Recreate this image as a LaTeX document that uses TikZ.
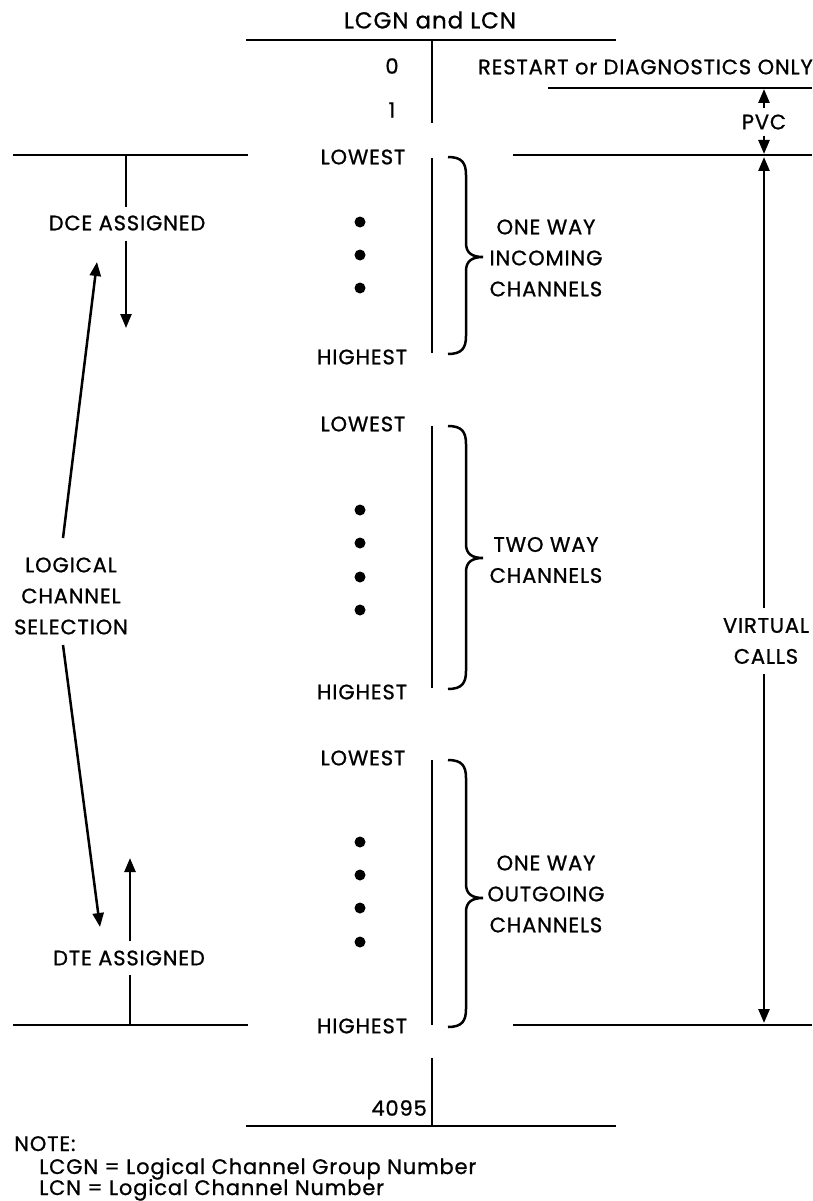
\documentclass[tikz,border=0pt]{standalone}
\usepackage{fontspec}
\setmainfont{Poppins}[LetterSpace=4,FakeBold=0.9]
\usetikzlibrary{arrows.meta}

% brace on the right of a channel range: top y, cusp y, bottom y
\newcommand\chanbrace[3]{%
  \draw (448,#1) .. controls (462,#1) and (466,{#1+6}) .. (466,{#1+18})
        -- (466,{#2-14}) .. controls (466,{#2-4}) and (472,#2) .. (483,#2)
        .. controls (472,#2) and (466,{#2+4}) .. (466,{#2+14})
        -- (466,{#3-18}) .. controls (466,{#3-6}) and (462,#3) .. (448,#3);}

\begin{document}
\begin{tikzpicture}[x=1pt,y=-1pt,line width=2.5pt,
  lbl/.style={font=\fontsize{21}{31}\selectfont,inner sep=0pt,align=center},
  tip/.style={-{Triangle[length=14pt,width=11pt]}},
  dotmark/.style={circle,fill,inner sep=0pt,minimum size=11pt},
]
\useasboundingbox (0,0) rectangle (812,1201);

% ---- header -------------------------------------------------------
\node[lbl,font=\fontsize{23}{31}\selectfont] (title) at (430,20) {LCGN and LCN};
\coordinate (topL) at (246,40); \coordinate (topR) at (616,40);
\draw (topL) -- (topR);
\coordinate (colA) at (432,40); \coordinate (colB) at (432,123);
\draw (colA) -- (colB);
\node[lbl] (zero) at (392,66) {0};
\node[lbl] (one)  at (392,110) {1};
\node[lbl,anchor=east] (restart) at (814,67) {RESTART or DIAGNOSTICS ONLY};
\coordinate (rsL) at (548,88); \coordinate (rsR) at (812,88);
\draw (rsL) -- (rsR);

% ---- PVC range ----------------------------------------------------
\node[lbl] (pvc) at (764,122) {PVC};
\coordinate (pvcTop) at (764,89); \coordinate (pvcBot) at (764,154);
\draw[tip,shorten <=5pt] (pvc.north) -- (pvcTop);
\draw[tip,shorten <=5pt] (pvc.south) -- (pvcBot);

% ---- range limits ---------------------------------------------------
\coordinate (upLL) at (13,155);  \coordinate (upLR) at (248,155);
\coordinate (upRL) at (513,155); \coordinate (upRR) at (812,155);
\draw (upLL) -- (upLR);  \draw (upRL) -- (upRR);
\coordinate (loLL) at (13,1025);  \coordinate (loLR) at (248,1025);
\coordinate (loRL) at (513,1025); \coordinate (loRR) at (812,1025);
\draw (loLL) -- (loLR);  \draw (loRL) -- (loRR);

% ---- virtual calls --------------------------------------------------
\node[lbl] (vc) at (766,641) {VIRTUAL\\CALLS};
\coordinate (vcTop) at (764,157); \coordinate (vcBot) at (764,1023);
\draw[tip,shorten <=9pt] (vc.north -| vcTop) -- (vcTop);
\draw[tip,shorten <=9pt] (vc.south -| vcBot) -- (vcBot);

% ---- one way incoming ----------------------------------------------
\node[lbl] (lo1) at (363,157) {LOWEST};
\node[lbl] (hi1) at (362,357) {HIGHEST};
\coordinate (v1a) at (432,158); \coordinate (v1b) at (432,353);
\draw (v1a) -- (v1b);
\foreach \y [count=\i] in {222,255,288} \node[dotmark] (d1\i) at (360,\y) {};
\chanbrace{157}{257}{354}
\node[lbl] (g1) at (546,258) {ONE WAY\\INCOMING\\CHANNELS};

% ---- two way ------------------------------------------------------
\node[lbl] (lo2) at (363,424) {LOWEST};
\node[lbl] (hi2) at (362,692) {HIGHEST};
\coordinate (v2a) at (432,426); \coordinate (v2b) at (432,688);
\draw (v2a) -- (v2b);
\foreach \y [count=\i] in {510,543,577,610} \node[dotmark] (d2\i) at (360,\y) {};
\chanbrace{426}{558}{689}
\node[lbl] (g2) at (546,560) {TWO WAY\\CHANNELS};

% ---- one way outgoing ----------------------------------------------
\node[lbl] (lo3) at (363,758) {LOWEST};
\node[lbl] (hi3) at (362,1026) {HIGHEST};
\coordinate (v3a) at (432,760); \coordinate (v3b) at (432,1025);
\draw (v3a) -- (v3b);
\foreach \y [count=\i] in {842,875,908,942} \node[dotmark] (d3\i) at (360,\y) {};
\chanbrace{760}{898}{1027}
\node[lbl] (g3) at (546,894) {ONE WAY\\OUTGOING\\CHANNELS};

% ---- last channel -------------------------------------------------
\coordinate (colC) at (432,1058); \coordinate (colD) at (432,1126);
\draw (colC) -- (colD);
\node[lbl,anchor=east] (last) at (428,1108) {4095};
\coordinate (botL) at (246,1126); \coordinate (botR) at (616,1126);
\draw (botL) -- (botR);

% ---- assignment directions -----------------------------------------
\node[lbl] (dce) at (127,223) {DCE ASSIGNED};
\coordinate (dceTop) at (126,155); \coordinate (dceTip) at (126,328);
\draw[shorten >=7pt] (dceTop) -- (dce.north -| dceTop);
\draw[tip,shorten <=9pt] (dce.south -| dceTip) -- (dceTip);

\node[lbl] (dte) at (129,958) {DTE ASSIGNED};
\coordinate (dteBot) at (130,1025); \coordinate (dteTip) at (130,858);
\draw[shorten >=8pt] (dteBot) -- (dte.south -| dteBot);
\draw[tip,shorten <=8pt] (dte.north -| dteTip) -- (dteTip);

\node[lbl] (sel) at (71,596) {LOGICAL\\CHANNEL\\SELECTION};
\coordinate (selUpFrom) at (63,538); \coordinate (selUpTip) at (97,262);
\coordinate (selDnFrom) at (63,645); \coordinate (selDnTip) at (100,927);
\draw[tip] (selUpFrom) -- (selUpTip);
\draw[tip] (selDnFrom) -- (selDnTip);

% ---- note ----------------------------------------------------------
\node[lbl,anchor=base west] (note) at (13,1151) {NOTE:};
\node[lbl,anchor=base west] (note1) at (38,1174) {LCGN = Logical Channel Group Number};
\node[lbl,anchor=base west] (note2) at (38,1195) {LCN = Logical Channel Number};
\end{tikzpicture}
\end{document}
